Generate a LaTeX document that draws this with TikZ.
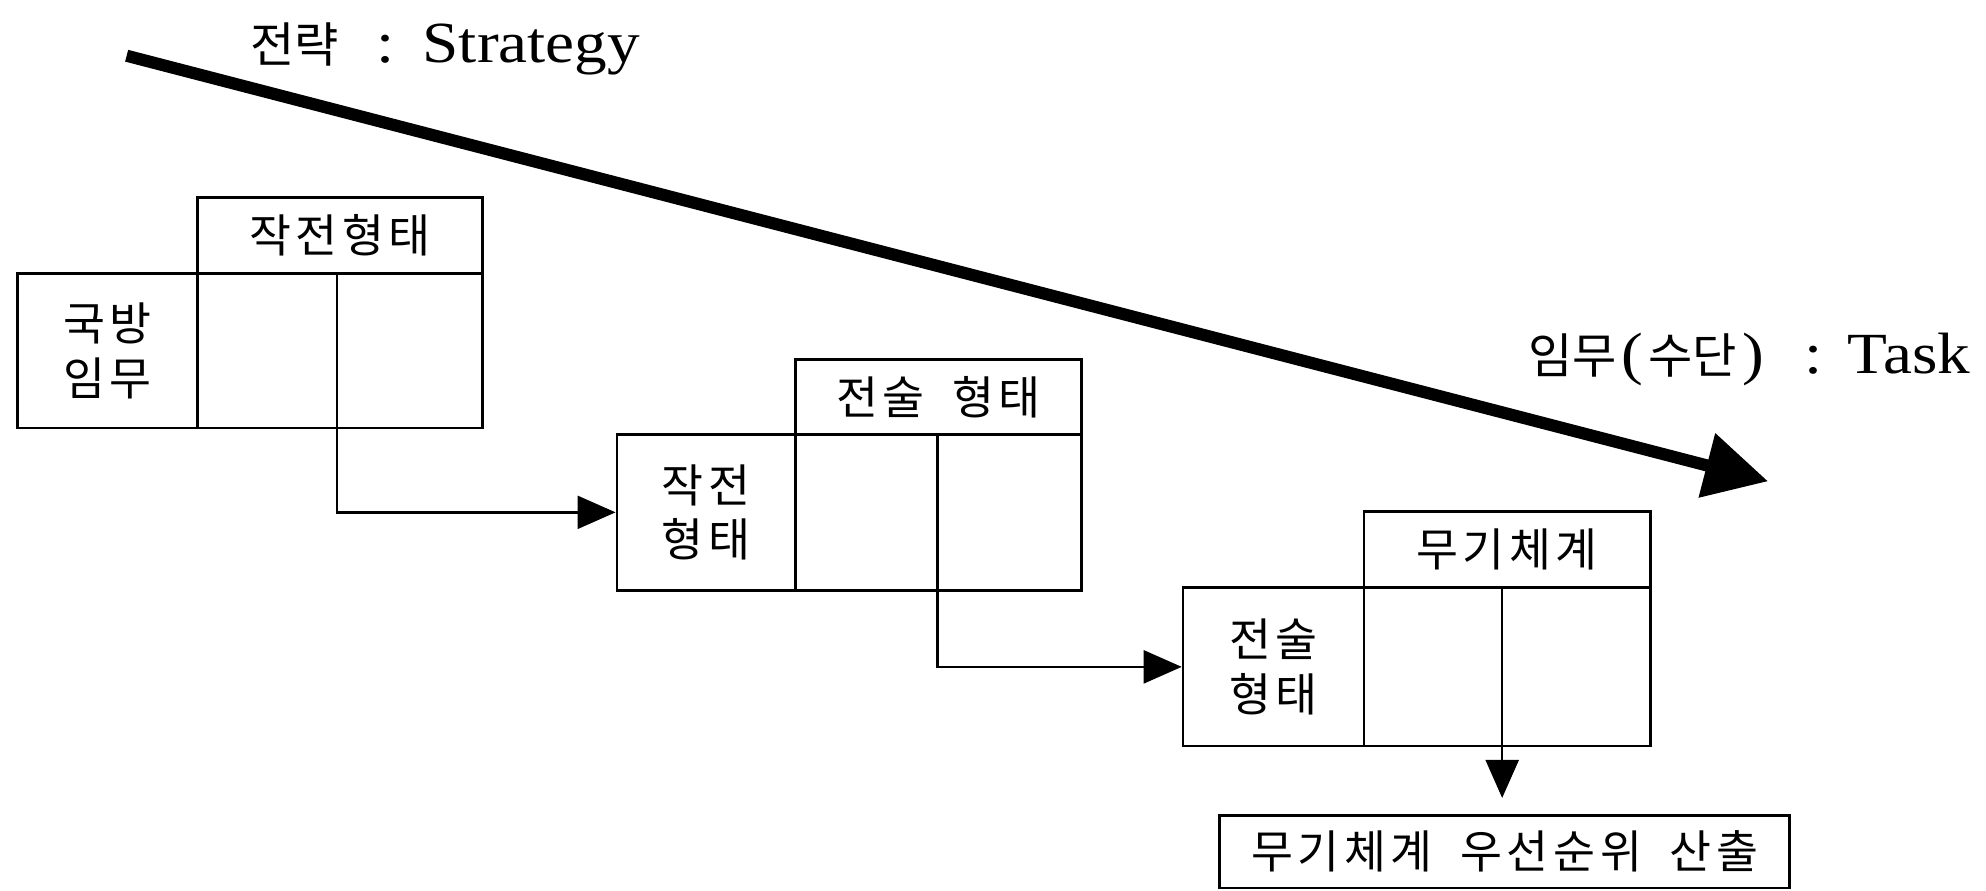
\documentclass[tikz,border=0pt]{standalone}
\usepackage{fontspec}
\setmainfont[FakeStretch=1.12]{Liberation Serif}
\newfontfamily\kr{Noto Sans CJK KR}
\newfontfamily\krb[LetterSpace=10]{Noto Sans CJK KR}
\usetikzlibrary{arrows.meta}
\newcommand{\krl}[1]{{\kr\fontsize{19}{21}\selectfont #1}}
\newcommand{\wsp}{\hspace{11pt}}
\begin{document}
\begin{tikzpicture}[x=0.5pt,y=-0.5pt,
  box/.style={draw, line width=1pt, inner sep=0pt, anchor=north west,
    font=\krb\fontsize{18}{21.5}\selectfont, align=center},
  conn/.style={line width=1pt},
  arr/.style={line width=1pt, -{Triangle[length=15pt,width=13pt]}},
  lbl/.style={inner sep=0pt, anchor=base west, font=\fontsize{23}{25}\selectfont}]
\useasboundingbox (0,0) rectangle (1568,703);

% big strategy -> task arrow
\coordinate (s) at (100,44);
\coordinate (t) at (1396,380);
\draw[line width=4.8pt, -{Triangle[length=25pt,width=25pt]}] (s) -- (t);

\node[lbl] (strat) at (197,49) {\krl{전략}\hspace{15pt}:\hspace{11pt}Strategy};
\node[lbl] (task) at (1206,295) {\krl{임무}\kern2pt(\kern2pt\krl{수단}\kern2pt)\kern2pt\hspace{14pt}:\hspace{10pt}Task};

% block 1
\node[box, minimum width=112.5pt, minimum height=30pt] (h1) at (155,155) {작전형태};
\node[box, minimum width=71pt, minimum height=61pt] (l1) at (13,215) {국방\\임무};
\node[box, minimum width=112.5pt, minimum height=61pt] (g1) at (155,215) {};
\coordinate (d1t) at (266,215);
\coordinate (d1b) at (266,337);
\draw[conn] (d1t) -- (d1b);

% block 2
\node[box, minimum width=113pt, minimum height=29.5pt] (h2) at (627,283) {전술\wsp 형태};
\node[box, minimum width=70.5pt, minimum height=61.5pt] (l2) at (486,342) {작전\\형태};
\node[box, minimum width=113pt, minimum height=61.5pt] (g2) at (627,342) {};
\coordinate (d2t) at (740,342);
\coordinate (d2b) at (740,465);
\draw[conn] (d2t) -- (d2b);

% block 3
\node[box, minimum width=113pt, minimum height=30pt] (h3) at (1076,403) {무기체계};
\node[box, minimum width=71.5pt, minimum height=62.5pt] (l3) at (933,463) {전술\\형태};
\node[box, minimum width=113pt, minimum height=62.5pt] (g3) at (1076,463) {};
\coordinate (d3t) at (1186,463);
\coordinate (d3b) at (1186,588);
\draw[conn] (d3t) -- (d3b);

% result
\node[box, minimum width=225pt, minimum height=28.5pt] (f) at (962,643) {무기체계\wsp 우선순위\wsp 산출};

% connectors
\draw[arr] (d1b) |- (l2.west);
\draw[arr] (d2b) |- (l3.west);
\draw[arr, shorten >=6.5pt] (d3b) -- (d3b |- f.north);
\end{tikzpicture}
\end{document}
